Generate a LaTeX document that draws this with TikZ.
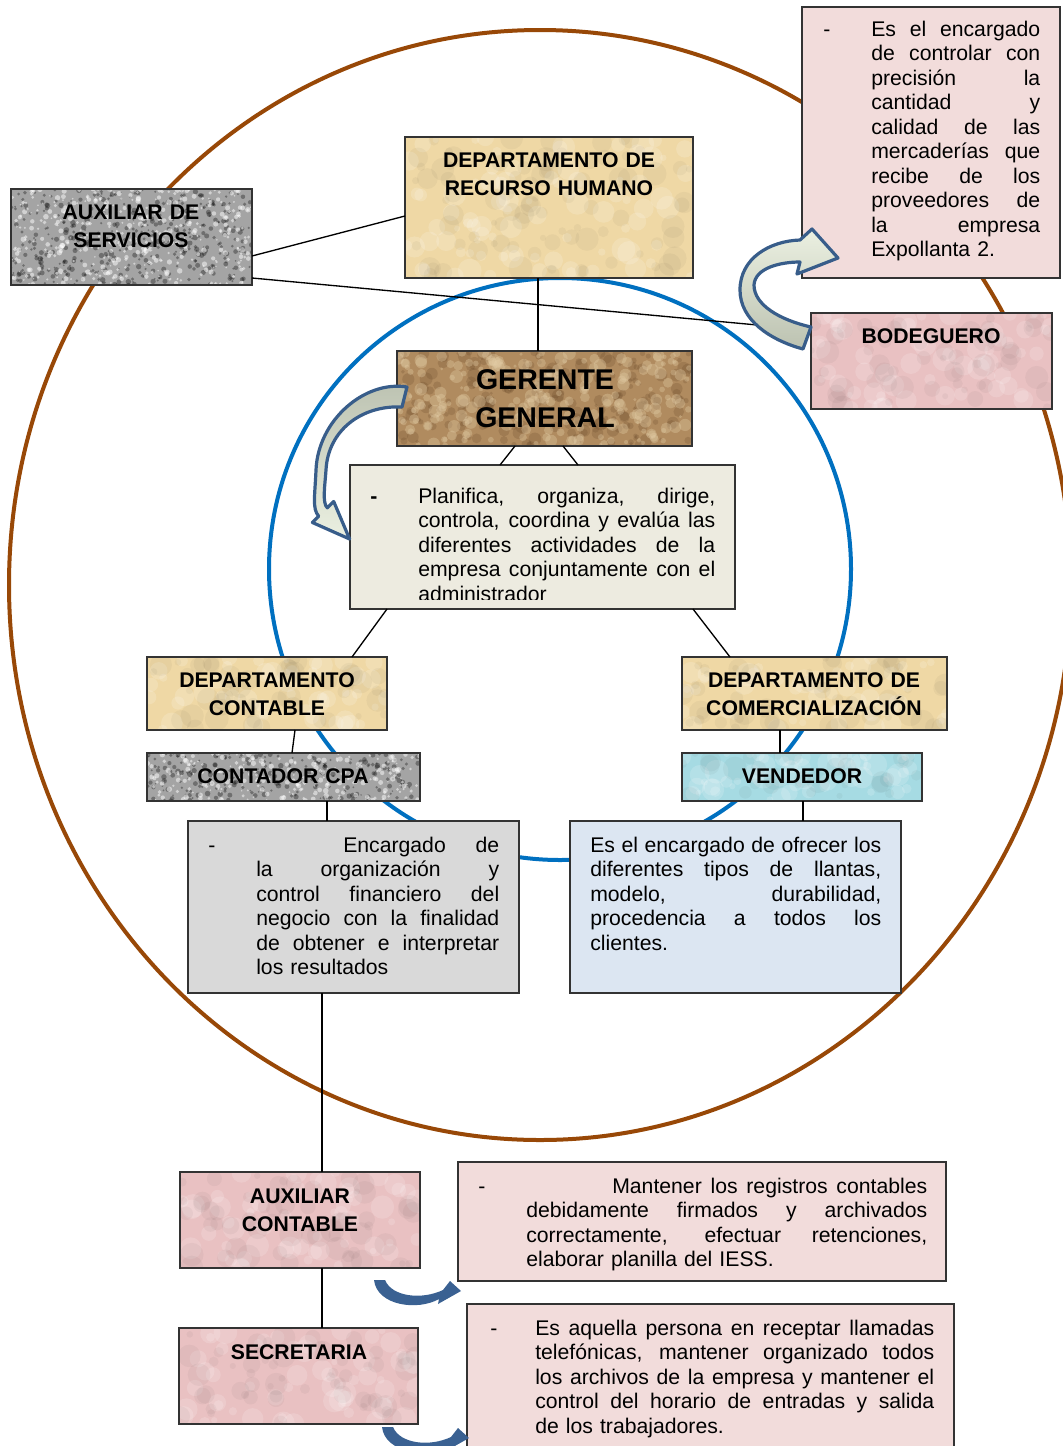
\documentclass[tikz,border=0pt]{standalone}
\usepackage{fontspec}
\setmainfont{Liberation Sans}
\usetikzlibrary{calc}
\definecolor{tanc}{HTML}{EFD8A5}
\definecolor{granc}{HTML}{A4A4A4}
\definecolor{gerc}{HTML}{B08B5F}
\definecolor{pinkt}{HTML}{E9C1C2}
\definecolor{pinkl}{HTML}{F2DCDB}
\definecolor{planc}{HTML}{EDEBE0}
\definecolor{encc}{HTML}{D9D9D9}
\definecolor{ofrc}{HTML}{DCE6F2}
\definecolor{vendc}{HTML}{A6DBE3}
\definecolor{brownl}{HTML}{984807}
\definecolor{bluel}{HTML}{0070C0}
\definecolor{arrowl}{HTML}{385D8A}
\definecolor{arrowg}{HTML}{BCC2B1}
\definecolor{arroww}{HTML}{EBF0E1}
\definecolor{sblue}{HTML}{3A6192}
\definecolor{darkbr}{HTML}{5E3F22}
\definecolor{lightbr}{HTML}{E3CDA6}
\newcommand{\texdots}[8]{\foreach \k in {1,...,#5}{\fill[#6] (#1+rnd*#3,#2+rnd*#4) circle[radius=#7+rnd*#8];}}
\newcommand{\jl}[1]{\makebox[\hsize][s]{\spaceskip=0.278em plus 1fil\relax #1}\\}
\newcommand{\dsh}[1]{\llap{\makebox[#1][l]{-}}}
\tikzset{
  box/.style={draw=black!80, line width=1pt, anchor=north west, inner sep=0pt, outer sep=0pt},
  rim/.style={draw=black!80, line width=1pt},
  sz/.style 2 args={minimum width=#1*0.75pt, minimum height=#2*0.75pt},
  ttl/.style={font=\bfseries\fontsize{15.9}{21}\selectfont, align=center, inner sep=0pt, anchor=base},
  body/.style={font=\fontsize{15.9}{18.4}\selectfont, align=left, inner sep=0pt, anchor=base west},
  link/.style={line width=1pt, black},
  dk/.style={fill=black, opacity=0.32},
  lt/.style={fill=white, opacity=0.5},
  brd/.style={fill=darkbr, opacity=0.2},
  brl/.style={fill=lightbr, opacity=0.35},
  soft/.style={fill=white, opacity=0.16},
  shade/.style={fill=black, opacity=0.035},
  bigarrow/.style={draw=arrowl, line width=2.4pt, line join=round}
}
\begin{document}
\begin{tikzpicture}[x=0.75pt,y=-0.75pt]
\pgfmathsetseed{7}
\useasboundingbox (0,0) rectangle (1063,1446);
\fill[white] (0,0) rectangle (1063,1446);
% circles
\draw[brownl, line width=3pt] (540,585) ellipse[x radius=531, y radius=555];
\draw[bluel, line width=3pt] (560,569) circle[radius=291];
% boxes
\node[box, sz={288}{141}, fill=tanc] (rh) at (405,137) {};
\node[box, sz={241}{96}, fill=granc] (aux) at (11,189) {};
\node[box, sz={258}{271}, fill=pinkl] (d1) at (802,7) {};
\node[box, sz={241}{96}, fill=pinkt] (bod) at (811,313) {};
\node[box, sz={295}{95}, fill=gerc] (ger) at (397,351) {};
\node[box, sz={385}{144}, fill=planc] (plan) at (350,465) {};
\node[box, sz={240}{73}, fill=tanc] (dcont) at (147,657) {};
\node[box, sz={265}{73}, fill=tanc] (dcom) at (682,657) {};
\node[box, sz={273}{48}, fill=granc] (cpa) at (147,753) {};
\node[box, sz={240}{48}, fill=vendc] (vend) at (682,753) {};
\node[box, sz={331}{172}, fill=encc] (enc) at (188,821) {};
\node[box, sz={331}{172}, fill=ofrc] (ofr) at (570,821) {};
\node[box, sz={240}{96}, fill=pinkt] (auxc) at (180,1172) {};
\node[box, sz={488}{119}, fill=pinkl] (mant) at (458,1162) {};
\node[box, sz={239}{96}, fill=pinkt] (sec) at (179,1328) {};
\node[box, sz={487}{160}, fill=pinkl] (aque) at (467,1304) {};
% textures
\begin{scope}\clip (aux.north west) rectangle (aux.south east);
\texdots{11}{189}{241}{96}{420}{dk}{0.8}{2}\texdots{11}{189}{241}{96}{420}{lt}{0.8}{2}\end{scope}
\draw[rim] (aux.north west) rectangle (aux.south east);
\begin{scope}\clip (cpa.north west) rectangle (cpa.south east);
\texdots{147}{753}{273}{48}{240}{dk}{0.8}{2}\texdots{147}{753}{273}{48}{240}{lt}{0.8}{2}\end{scope}
\draw[rim] (cpa.north west) rectangle (cpa.south east);
\begin{scope}\clip (ger.north west) rectangle (ger.south east);
\texdots{397}{351}{295}{95}{220}{brd}{1.5}{5}\texdots{397}{351}{295}{95}{260}{brl}{1.5}{5}\end{scope}
\draw[rim] (ger.north west) rectangle (ger.south east);
\begin{scope}\clip (rh.north west) rectangle (rh.south east);
\texdots{405}{137}{288}{141}{90}{soft}{3}{9}\texdots{405}{137}{288}{141}{90}{shade}{3}{9}\end{scope}
\draw[rim] (rh.north west) rectangle (rh.south east);
\begin{scope}\clip (dcont.north west) rectangle (dcont.south east);
\texdots{147}{657}{240}{73}{50}{soft}{3}{9}\texdots{147}{657}{240}{73}{50}{shade}{3}{9}\end{scope}
\draw[rim] (dcont.north west) rectangle (dcont.south east);
\begin{scope}\clip (dcom.north west) rectangle (dcom.south east);
\texdots{682}{657}{265}{73}{55}{soft}{3}{9}\texdots{682}{657}{265}{73}{55}{shade}{3}{9}\end{scope}
\draw[rim] (dcom.north west) rectangle (dcom.south east);
\begin{scope}\clip (vend.north west) rectangle (vend.south east);
\texdots{682}{753}{240}{48}{60}{soft}{3}{9}\texdots{682}{753}{240}{48}{30}{shade}{3}{9}\end{scope}
\draw[rim] (vend.north west) rectangle (vend.south east);
\begin{scope}\clip (bod.north west) rectangle (bod.south east);
\texdots{811}{313}{241}{96}{60}{soft}{3}{9}\texdots{811}{313}{241}{96}{60}{shade}{3}{9}\end{scope}
\draw[rim] (bod.north west) rectangle (bod.south east);
\begin{scope}\clip (auxc.north west) rectangle (auxc.south east);
\texdots{180}{1172}{240}{96}{60}{soft}{3}{9}\texdots{180}{1172}{240}{96}{60}{shade}{3}{9}\end{scope}
\draw[rim] (auxc.north west) rectangle (auxc.south east);
\begin{scope}\clip (sec.north west) rectangle (sec.south east);
\texdots{179}{1328}{239}{96}{60}{soft}{3}{9}\texdots{179}{1328}{239}{96}{60}{shade}{3}{9}\end{scope}
\draw[rim] (sec.north west) rectangle (sec.south east);
% connectors
\draw[link] ([shift={(0,19)}]aux.east) -- ([shift={(0,8.5)}]rh.west);
\draw[link] ([shift={(0,41)}]aux.east) -- ([shift={(0,-31)}]bod.west);
\draw[link] ([shift={(-11,0)}]rh.south) -- ([shift={(-6.5,0)}]ger.north);
\draw[link] ([shift={(-29.5,0)}]ger.south) -- ([shift={(-42.5,0)}]plan.north);
\draw[link] ([shift={(18.5,0)}]ger.south) -- ([shift={(35.5,0)}]plan.north);
\draw[link] ([shift={(-155.5,0)}]plan.south) -- ([shift={(85,0)}]dcont.north);
\draw[link] ([shift={(150.5,0)}]plan.south) -- ([shift={(-84.5,0)}]dcom.north);
\draw[link] ([shift={(28,0)}]dcont.south) -- ([shift={(8.5,0)}]cpa.north);
\draw[link] ([shift={(-34.5,0)}]dcom.south) -- ([shift={(-22,0)}]vend.north);
\draw[link] ([shift={(43.5,0)}]cpa.south) -- ([shift={(-26.5,0)}]enc.north);
\draw[link] ([shift={(1,0)}]vend.south) -- ([shift={(67.5,0)}]ofr.north);
\draw[link] ([shift={(-31.5,0)}]enc.south) -- ([shift={(22,0)}]auxc.north);
\draw[link] ([shift={(22,0)}]auxc.south) -- ([shift={(23.5,0)}]sec.north);
% titles
\node[ttl, text width=210pt] (rh-t) at (549,167) {DEPARTAMENTO DE\\RECURSO HUMANO};
\node[ttl, text width=175pt] (aux-t) at (131,219) {AUXILIAR DE\\SERVICIOS};
\node[ttl, text width=175pt] (bod-t) at (931,343) {BODEGUERO};
\node[ttl, text width=215pt, font=\bfseries\fontsize{21.4}{28.5}\selectfont] (ger-t) at (545,389) {GERENTE\\GENERAL};
\node[ttl, text width=175pt] (dcont-t) at (267,687) {DEPARTAMENTO\\CONTABLE};
\node[ttl, text width=195pt] (dcom-t) at (814,687) {DEPARTAMENTO DE\\COMERCIALIZACIÓN};
\node[ttl, text width=195pt] (cpa-t) at (283,783) {CONTADOR CPA};
\node[ttl, text width=175pt] (vend-t) at (802,783) {VENDEDOR};
\node[ttl, text width=175pt] (auxc-t) at (300,1203) {AUXILIAR\\CONTABLE};
\node[ttl, text width=175pt] (sec-t) at (299,1359) {SECRETARIA};
% descriptions
\node[body, text width=126.75pt] (d1-t) at (871,36) {\dsh{36pt}\jl{Es el encargado}\jl{de controlar con}\jl{precisión la}\jl{cantidad y}\jl{calidad de las}\jl{mercaderías que}\jl{recibe de los}\jl{proveedores de}\jl{la empresa}Expollanta 2.};
\begin{scope}
\clip (plan.north west) rectangle ([shift={(0,-10)}]plan.south east);
\node[body, text width=222.75pt] (plan-t) at (418,503) {\llap{\makebox[36pt][l]{\textbf{-}}}\jl{Planifica, organiza, dirige,}\jl{controla, coordina y evalúa las}\jl{diferentes actividades de la}\jl{empresa conjuntamente con el}administrador};
\end{scope}
\node[body, text width=182.25pt] (enc-t) at (256,852) {\dsh{36pt}\jl{\hspace{65.25pt}Encargado de}\jl{la organización y}\jl{control financiero del}\jl{negocio con la finalidad}\jl{de obtener e interpretar}los resultados};
\node[body, text width=218.25pt] (ofr-t) at (590,852) {\jl{Es el encargado de ofrecer los}\jl{diferentes tipos de llantas,}\jl{modelo, durabilidad,}\jl{procedencia a todos los}clientes.};
\node[body, text width=300.75pt] (mant-t) at (526,1193) {\dsh{36pt}\jl{\hspace{64.5pt}Mantener los registros contables}\jl{debidamente firmados y archivados}\jl{correctamente, efectuar retenciones,}elaborar planilla del IESS.};
\node[body, text width=299.25pt] (aque-t) at (535,1335) {\dsh{33.75pt}\jl{Es aquella persona en receptar llamadas}\jl{telefónicas, mantener organizado todos}\jl{los archivos de la empresa y mantener el}\jl{control del horario de entradas y salida}de los trabajadores.};
% curved block arrows
\path[bigarrow, top color=arrowg, bottom color=arroww]
  (407,387) .. controls (365,380) and (318,420) .. (316,470)
  .. controls (315,495) and (312,509) .. (318.7,516.2)
  -- (312.4,522.5) -- (349.6,539) -- (333.7,501.5) -- (327.3,507.8)
  .. controls (322,503) and (325,485) .. (326,470)
  .. controls (328,430) and (362,405) .. (402,407) -- cycle;
\path[bigarrow, top color=arroww, bottom color=arrowg]
  (803,349) .. controls (770,340) and (740,320) .. (740,290)
  .. controls (740,258) and (770,241) .. (800,240)
  -- (812,229) -- (838,258) -- (797,274) -- (800,262)
  .. controls (780,262) and (755,268) .. (754,285)
  .. controls (754,305) and (780,320) .. (811,327) -- cycle;
\fill[sblue] (374,1280) -- (385,1280) .. controls (392,1297) and (422,1300) .. (443,1290)
  -- (450,1281) -- (461,1291) -- (438,1304) -- (439,1299)
  .. controls (418,1311) and (377,1306) .. cycle;
\fill[sblue, shift={(8,147)}] (374,1280) -- (385,1280) .. controls (392,1297) and (422,1300) .. (443,1290)
  -- (450,1281) -- (461,1291) -- (438,1304) -- (439,1299)
  .. controls (418,1311) and (377,1306) .. cycle;
\end{tikzpicture}
\end{document}
